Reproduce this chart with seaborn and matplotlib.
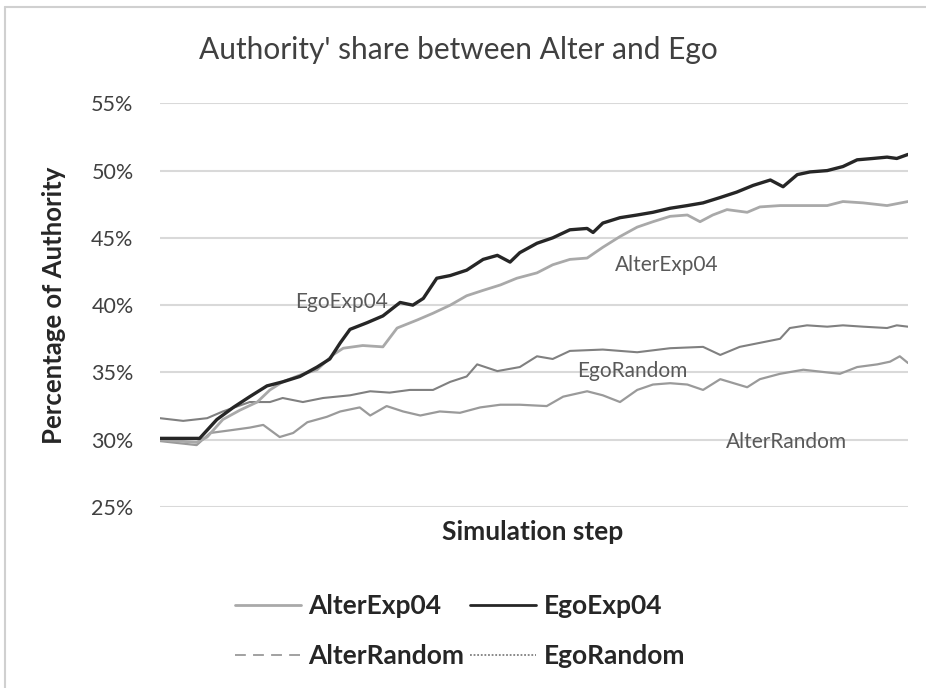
import matplotlib
matplotlib.use("Agg")
import matplotlib.pyplot as plt
from matplotlib.lines import Line2D
import seaborn as sns
import pandas as pd

# ---- data ----
ego_exp_steps = [0, 53, 76, 98, 120, 143, 164, 187, 210, 227, 241, 254, 277, 298, 321, 338, 352, 370, 388, 410,
                 432, 451, 468, 481, 504, 525, 548, 571, 579, 592, 615, 638, 659, 682, 705, 726, 749, 771, 793,
                 816, 833, 852, 869, 892, 913, 932, 953, 972, 985, 1000]
ego_exp_vals = [30.1, 30.1, 31.5, 32.4, 33.2, 34.0, 34.3, 34.7, 35.4, 36.0, 37.2, 38.2, 38.7, 39.2, 40.2, 40.0,
                40.5, 42.0, 42.2, 42.6, 43.4, 43.7, 43.2, 43.9, 44.6, 45.0, 45.6, 45.7, 45.4, 46.1, 46.5, 46.7,
                46.9, 47.2, 47.4, 47.6, 48.0, 48.4, 48.9, 49.3, 48.8, 49.7, 49.9, 50.0, 50.3, 50.8, 50.9, 51.0,
                50.9, 51.2]

alter_exp_steps = [0, 49, 63, 84, 107, 130, 147, 164, 187, 210, 231, 245, 271, 298, 317, 344, 365, 388, 410,
                   432, 455, 477, 504, 525, 548, 571, 592, 615, 638, 659, 682, 705, 722, 739, 758, 785, 802,
                   829, 860, 892, 913, 940, 972, 1000]
alter_exp_vals = [30.0, 29.8, 30.2, 31.5, 32.2, 32.8, 33.7, 34.3, 34.8, 35.2, 36.3, 36.8, 37.0, 36.9, 38.3,
                  38.9, 39.4, 40.0, 40.7, 41.1, 41.5, 42.0, 42.4, 43.0, 43.4, 43.5, 44.3, 45.1, 45.8, 46.2,
                  46.6, 46.7, 46.2, 46.7, 47.1, 46.9, 47.3, 47.4, 47.4, 47.4, 47.7, 47.6, 47.4, 47.7]

ego_rand_steps = [0, 31, 63, 84, 120, 147, 164, 191, 218, 254, 281, 307, 334, 365, 388, 410, 424, 451, 481,
                  504, 525, 548, 592, 638, 682, 726, 749, 775, 802, 829, 842, 865, 892, 913, 940, 972, 985, 1000]
ego_rand_vals = [31.6, 31.4, 31.6, 32.1, 32.8, 32.8, 33.1, 32.8, 33.1, 33.3, 33.6, 33.5, 33.7, 33.7, 34.3,
                 34.7, 35.6, 35.1, 35.4, 36.2, 36.0, 36.6, 36.7, 36.5, 36.8, 36.9, 36.3, 36.9, 37.2, 37.5,
                 38.3, 38.5, 38.4, 38.5, 38.4, 38.3, 38.5, 38.4]

alter_rand_steps = [0, 49, 67, 94, 120, 138, 160, 178, 197, 223, 241, 267, 281, 303, 325, 348, 374, 401, 428,
                    455, 481, 517, 539, 571, 592, 615, 638, 659, 682, 705, 726, 749, 785, 802, 829, 860, 892,
                    909, 932, 959, 976, 989, 1000]
alter_rand_vals = [29.9, 29.6, 30.5, 30.7, 30.9, 31.1, 30.2, 30.5, 31.3, 31.7, 32.1, 32.4, 31.8, 32.5, 32.1,
                   31.8, 32.1, 32.0, 32.4, 32.6, 32.6, 32.5, 33.2, 33.6, 33.3, 32.8, 33.7, 34.1, 34.2, 34.1,
                   33.7, 34.5, 33.9, 34.5, 34.9, 35.2, 35.0, 34.9, 35.4, 35.6, 35.8, 36.2, 35.7]

series_names = ["AlterExp04", "EgoExp04", "AlterRandom", "EgoRandom"]
y_ticks = [25, 30, 35, 40, 45, 50, 55]
y_tick_labels = ["25%", "30%", "35%", "40%", "45%", "50%", "55%"]

title = "Authority' share between Alter and Ego"
x_label = "Simulation step"
y_label = "Percentage of Authority"

# ---- styling ----
sns.set_theme(style="white")
plt.rcParams["font.family"] = ["Lato", "DejaVu Sans"]

colors = {"AlterExp04": "#a9a9a9", "EgoExp04": "#262626",
          "AlterRandom": "#9a9a9a", "EgoRandom": "#808080"}
widths = {"AlterExp04": 2.0, "EgoExp04": 2.4, "AlterRandom": 1.6, "EgoRandom": 1.5}
legend_styles = {"AlterExp04": "-", "EgoExp04": "-", "AlterRandom": (0, (6, 4)), "EgoRandom": (0, (1, 1))}

frames = []
for name, st, vals in [("AlterExp04", alter_exp_steps, alter_exp_vals),
                       ("EgoExp04", ego_exp_steps, ego_exp_vals),
                       ("AlterRandom", alter_rand_steps, alter_rand_vals),
                       ("EgoRandom", ego_rand_steps, ego_rand_vals)]:
    frames.append(pd.DataFrame({"step": st, "value": vals, "series": name}))
df = pd.concat(frames, ignore_index=True)

fig = plt.figure(figsize=(9.26, 6.88), dpi=100)
ax = fig.add_axes([160 / 926, 1 - 507 / 688, (908 - 160) / 926, (507 - 103.3) / 688])

for name in ["AlterRandom", "EgoRandom", "AlterExp04", "EgoExp04"]:
    sub = df[df["series"] == name]
    sns.lineplot(data=sub, x="step", y="value", ax=ax, color=colors[name],
                 linewidth=widths[name], legend=False)

ax.set_xlim(0, 1000)
ax.set_ylim(25, 55)
ax.set_yticks(y_ticks)
ax.set_yticklabels(y_tick_labels, fontsize=15.5, color="#404040")
ax.set_xticks([])
ax.grid(axis="y", color="#d9d9d9", linewidth=1.5)
ax.set_axisbelow(True)
for s in ax.spines.values():
    s.set_visible(False)
ax.tick_params(axis="y", length=0, pad=19)
ax.set_xlabel(x_label, fontsize=19, fontweight="bold", color="#262626")
ax.xaxis.set_label_coords((533 - 160) / 748, -(520 - 507) / 403.7)
ax.set_ylabel(y_label, fontsize=18.5, fontweight="bold", color="#262626")
ax.yaxis.set_label_coords((66 - 160) / 748, (507 - 305) / 403.7)

# in-plot series labels
lab_kw = dict(fontsize=15, color="#595959", ha="center", va="center")
ax.text(243, 40.2, "EgoExp04", **lab_kw)
ax.text(678, 43.0, "AlterExp04", **lab_kw)
ax.text(631, 35.1, "EgoRandom", **lab_kw)
ax.text(837, 29.85, "AlterRandom", **lab_kw)

fig.text(458 / 926, 1 - 50 / 688, title, fontsize=21.5, color="#404040", ha="center", va="center")

# legend filled row-wise: row1 AlterExp04, EgoExp04; row2 AlterRandom, EgoRandom
order = ["AlterExp04", "AlterRandom", "EgoExp04", "EgoRandom"]
handles = [Line2D([], [], color=colors[n], linewidth=2 if n in ("AlterExp04", "EgoExp04") else 1.3,
                  linestyle=legend_styles[n]) for n in order]
leg = fig.legend(handles, order, ncol=2, loc="center", bbox_to_anchor=(460 / 926, 1 - 631 / 688),
                 frameon=False, handlelength=2.5, handletextpad=0.3, columnspacing=0.2,
                 labelspacing=1.0, prop={"weight": "bold", "size": 19})
for t in leg.get_texts():
    t.set_color("#262626")

# chart frame
fig.add_artist(Line2D([5 / 926, 5 / 926], [0, 1 - 7 / 688], color="#d0d0d0", linewidth=1.5,
                      transform=fig.transFigure))
fig.add_artist(Line2D([5 / 926, 1], [1 - 7 / 688, 1 - 7 / 688], color="#d0d0d0", linewidth=1.5,
                      transform=fig.transFigure))

fig.savefig("out.png", dpi=100)
